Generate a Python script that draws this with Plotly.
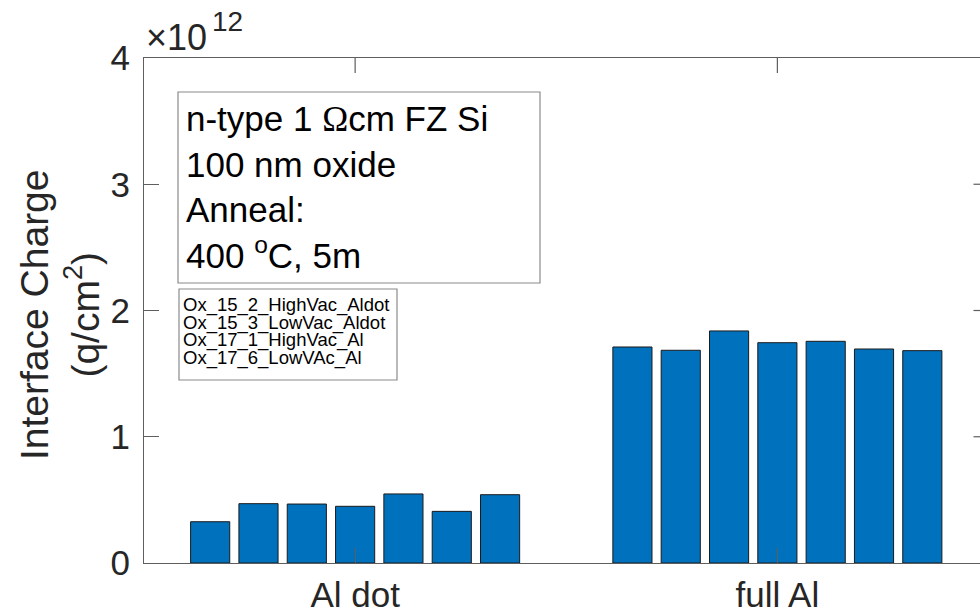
import plotly.graph_objects as go

# ---- data -------------------------------------------------------------
categories = ["Al dot", "full Al"]
# interface charge (q/cm^2) for the seven measured samples in each group
al_dot_charge = [3.27e11, 4.70e11, 4.67e11, 4.49e11, 5.47e11, 4.09e11, 5.41e11]
full_al_charge = [1.711e12, 1.685e12, 1.838e12, 1.745e12, 1.756e12, 1.695e12, 1.682e12]
y_tick_values = [0, 1e12, 2e12, 3e12, 4e12]
y_tick_labels = ["0", "1", "2", "3", "4"]
legend_labels = [
    "Ox_15_2_HighVac_Aldot",
    "Ox_15_3_LowVac_Aldot",
    "Ox_17_1_HighVac_Al",
    "Ox_17_6_LowVAc_Al",
]
info_lines = [
    "n-type 1 <span style='font-family:Liberation Serif, Times New Roman, serif'>\u03a9</span>cm FZ Si",
    "100 nm oxide",
    "Anneal:",
    "400 <sup>o</sup>C, 5m",
]

# ---- geometry (pixels) ------------------------------------------------
W, H = 980, 614
L, T, B = 144, 58, 51
plot_w = W - L
plot_h = H - T - B
px_per_cat = 422.25
x_lo = 0.5
x_hi = x_lo + plot_w / px_per_cat

FONT = "Liberation Sans, Arial, Helvetica, sans-serif"
AX = "#262626"
LINE = "#5e5e5e"
BAR = "#0072BD"


def px_x(p):
    return (p - L) / plot_w


def px_y(p):
    return (H - B - p) / plot_h


fig = go.Figure()
x_pos = [i + 1 for i in range(len(categories))]
for k in range(len(al_dot_charge)):
    fig.add_trace(go.Bar(
        x=x_pos,
        y=[al_dot_charge[k], full_al_charge[k]],
        marker=dict(color=BAR, line=dict(color="#1a1a1a", width=1)),
        showlegend=False,
        hoverinfo="y",
    ))

shapes = []
# inward ticks of the right-hand axis (the axis itself lies just past the page edge)
for v in y_tick_values[1:-1]:
    shapes.append(dict(type="line", xref="x", yref="y",
                       x0=2.5 - 15 / px_per_cat, x1=2.5, y0=v, y1=v,
                       line=dict(color=LINE, width=1.2), layer="above"))
# inward ticks of the top axis
for xv in x_pos:
    shapes.append(dict(type="line", xref="x", yref="y",
                       x0=xv, x1=xv, y0=4e12, y1=4e12 - 15 * 4e12 / plot_h,
                       line=dict(color=LINE, width=1.2), layer="above"))
# annotation box
shapes.append(dict(type="rect", xref="paper", yref="paper",
                   x0=px_x(178), x1=px_x(540), y0=px_y(283), y1=px_y(92),
                   line=dict(color="#8a8a8a", width=1.2), fillcolor="white", layer="above"))
# legend box
shapes.append(dict(type="rect", xref="paper", yref="paper",
                   x0=px_x(179), x1=px_x(397), y0=px_y(380), y1=px_y(289),
                   line=dict(color="#8a8a8a", width=1.2), fillcolor="white", layer="above"))

annotations = []
# sample information text
annotations.append(dict(
    xref="paper", yref="paper", x=px_x(184), y=px_y(97),
    xanchor="left", yanchor="top", align="left", showarrow=False,
    text="<br>".join(info_lines),
    font=dict(family=FONT, size=35, color="black"),
))
# legend entries
for i, lab in enumerate(legend_labels):
    annotations.append(dict(
        xref="paper", yref="paper", x=px_x(181), y=px_y(305 + 17.5 * i),
        xanchor="left", yanchor="middle", showarrow=False, text=lab,
        font=dict(family=FONT, size=18.5, color="black"),
    ))
# y-axis title
annotations.append(dict(
    xref="paper", yref="paper", x=px_x(60), y=px_y(315),
    xanchor="center", yanchor="middle", showarrow=False, textangle=-90,
    text="Interface Charge<br>(q/cm<sup>2</sup>)",
    font=dict(family=FONT, size=39, color=AX),
))
# exponent label of the y axis
annotations.append(dict(
    xref="paper", yref="paper", x=px_x(144), y=px_y(60),
    xanchor="left", yanchor="bottom", showarrow=False, text="\u00d710",
    font=dict(family=FONT, size=36, color=AX),
))
annotations.append(dict(
    xref="paper", yref="paper", x=px_x(210), y=px_y(39),
    xanchor="left", yanchor="bottom", showarrow=False, text="12",
    font=dict(family=FONT, size=28, color=AX),
))

fig.update_layout(
    width=W, height=H,
    margin=dict(l=L, r=0, t=T, b=B, pad=0, autoexpand=False),
    paper_bgcolor="white", plot_bgcolor="white",
    barmode="group", bargap=0.199, bargroupgap=0.19,
    shapes=shapes, annotations=annotations,
    xaxis=dict(
        range=[x_lo, x_hi], tickmode="array", tickvals=x_pos, ticktext=categories,
        ticks="inside", ticklen=15, tickwidth=1.2, tickcolor=LINE,
        showline=True, linecolor=LINE, linewidth=1.2, mirror=True,
        showgrid=False, zeroline=False, automargin=False,
        tickfont=dict(family=FONT, size=35, color=AX),
        ticklabelstandoff=1,
    ),
    yaxis=dict(
        range=[0, 4e12], tickmode="array", tickvals=y_tick_values, ticktext=y_tick_labels,
        ticks="inside", ticklen=15, tickwidth=1.2, tickcolor=LINE,
        showline=True, linecolor=LINE, linewidth=1.2, mirror=False,
        showgrid=False, zeroline=False, automargin=False,
        tickfont=dict(family=FONT, size=35, color=AX),
        ticklabelstandoff=6,
    ),
)

fig.write_html("out.html")
